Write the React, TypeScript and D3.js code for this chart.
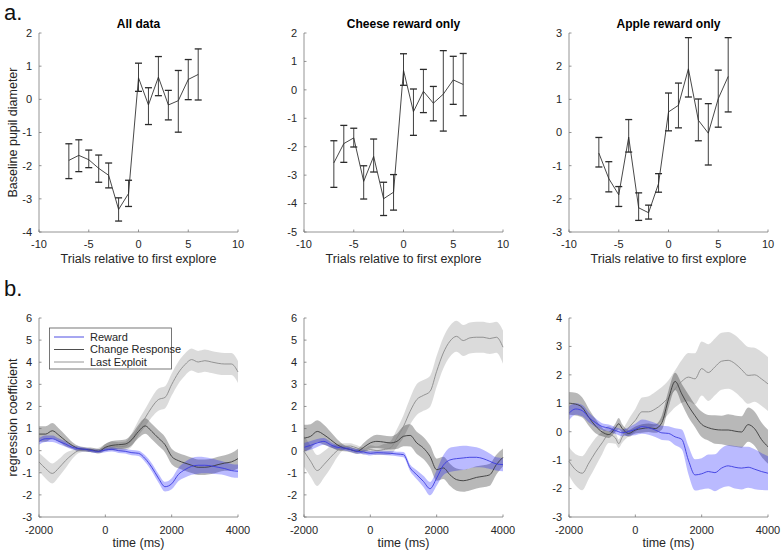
import React from "react";
import * as d3 from "d3";

// ---------- Panel a data ----------
const trials = [-7, -6, -5, -4, -3, -2, -1, 0, 1, 2, 3, 4, 5, 6];

const allMean = [-1.84, -1.69, -1.82, -2.08, -2.29, -3.32, -2.84, 0.65, -0.17, 0.67, -0.17, -0.04, 0.6, 0.75];
const allHi = [-1.34, -1.22, -1.53, -1.68, -1.92, -2.97, -2.44, 1.09, 0.35, 1.29, 0.27, 0.87, 1.2, 1.52];
const allLo = [-2.39, -2.18, -2.06, -2.5, -2.67, -3.67, -3.23, 0.24, -0.76, 0.11, -0.62, -0.99, -0.01, -0.02];

const cheeseMean = [-2.57, -1.89, -1.69, -3.22, -2.34, -3.83, -3.6, 0.69, -0.77, -0.05, -0.47, -0.15, 0.35, 0.19];
const cheeseHi = [-1.79, -1.25, -1.35, -2.67, -1.73, -3.25, -2.98, 1.27, 0.03, 0.72, 0.12, 1.38, 1.18, 1.28];
const cheeseLo = [-3.43, -2.55, -2.01, -3.84, -2.89, -4.42, -4.23, 0.16, -1.6, -0.8, -1.09, -1.45, -0.51, -0.91];

const appleMean = [-0.62, -1.39, -1.88, -0.14, -2.27, -2.42, -1.54, 0.62, 0.82, 1.92, 0.37, -0.02, 1.02, 1.69];
const appleHi = [-0.15, -0.88, -1.63, 0.39, -1.82, -2.19, -1.24, 1.19, 1.49, 2.86, 1.01, 0.87, 1.88, 2.86];
const appleLo = [-1.04, -1.79, -2.23, -0.59, -2.65, -2.61, -1.8, 0.05, 0.14, 1.07, -0.25, -0.98, 0.16, 0.62];

const topTitles = ["All data", "Cheese reward only", "Apple reward only"];
const topYDomains: [number, number][] = [[-4, 2], [-5, 2], [-3, 3]];
const trialTicks = [-10, -5, 0, 5, 10];

// ---------- Panel b data ----------
const times = [-2000, -1800, -1600, -1400, -1200, -1000, -800, -600, -500, -400, -200, 0, 200, 400, 600, 800, 1000, 1200, 1400, 1600, 1800, 2000, 2200, 2400, 2600, 2800, 3000, 3200, 3400, 3600, 3800, 4000];

const reward1 = [0.42, 0.54, 0.54, 0.42, 0.3, 0.15, 0.09, 0.05, 0.03, 0.0, -0.03, 0.03, 0.06, 0.0, -0.03, -0.09, -0.12, -0.36, -0.75, -1.24, -1.63, -1.5, -1.08, -0.86, -0.71, -0.66, -0.66, -0.69, -0.75, -0.81, -0.9, -0.93];
const reward1Ci = [0.15, 0.15, 0.15, 0.13, 0.12, 0.1, 0.1, 0.08, 0.08, 0.08, 0.08, 0.1, 0.1, 0.1, 0.1, 0.12, 0.12, 0.15, 0.18, 0.2, 0.22, 0.25, 0.3, 0.35, 0.38, 0.38, 0.36, 0.34, 0.32, 0.3, 0.3, 0.3];
const change1 = [0.75, 0.75, 0.9, 0.7, 0.45, 0.24, 0.09, 0.06, 0.04, 0.03, -0.03, 0.15, 0.24, 0.27, 0.3, 0.5, 0.87, 1.12, 0.87, 0.57, 0.27, -0.26, -0.45, -0.56, -0.66, -0.75, -0.75, -0.71, -0.63, -0.56, -0.51, -0.36];
const change1Ci = [0.35, 0.35, 0.35, 0.3, 0.25, 0.15, 0.12, 0.1, 0.1, 0.1, 0.1, 0.15, 0.2, 0.2, 0.2, 0.25, 0.3, 0.35, 0.35, 0.35, 0.35, 0.35, 0.35, 0.35, 0.35, 0.35, 0.35, 0.35, 0.35, 0.35, 0.4, 0.45];
const last1 = [-0.51, -0.81, -1.03, -0.78, -0.45, -0.18, 0.0, 0.03, 0.02, 0.0, 0.03, 0.15, 0.21, 0.18, 0.21, 0.5, 1.03, 1.48, 1.96, 2.31, 2.41, 2.99, 3.52, 3.89, 4.12, 4.01, 4.07, 4.01, 3.95, 3.92, 3.92, 3.56];
const last1Ci = [0.4, 0.45, 0.45, 0.4, 0.35, 0.2, 0.1, 0.08, 0.08, 0.08, 0.1, 0.15, 0.2, 0.2, 0.2, 0.3, 0.35, 0.4, 0.45, 0.5, 0.5, 0.5, 0.5, 0.5, 0.5, 0.5, 0.5, 0.5, 0.5, 0.5, 0.5, 0.5];

const reward2 = [0.15, 0.24, 0.35, 0.42, 0.27, 0.15, 0.12, 0.05, 0.01, -0.03, -0.06, -0.12, -0.09, -0.1, -0.12, -0.15, -0.18, -0.78, -1.09, -1.39, -1.72, -1.24, -0.66, -0.42, -0.36, -0.33, -0.3, -0.3, -0.36, -0.48, -0.6, -0.63];
const reward2Ci = [0.2, 0.2, 0.18, 0.15, 0.12, 0.1, 0.1, 0.1, 0.1, 0.1, 0.1, 0.1, 0.1, 0.1, 0.1, 0.1, 0.12, 0.15, 0.2, 0.25, 0.3, 0.35, 0.45, 0.55, 0.55, 0.55, 0.5, 0.45, 0.4, 0.35, 0.3, 0.3];
const change2 = [0.57, 0.65, 0.87, 0.72, 0.5, 0.27, 0.12, 0.05, 0.0, -0.03, 0.15, 0.35, 0.42, 0.39, 0.35, 0.42, 0.65, 0.69, 0.35, 0.12, -0.26, -0.86, -0.78, -1.09, -1.31, -1.36, -1.3, -1.21, -1.16, -1.09, -0.63, -0.3];
const change2Ci = [0.6, 0.55, 0.5, 0.45, 0.35, 0.25, 0.15, 0.12, 0.12, 0.12, 0.2, 0.25, 0.3, 0.3, 0.3, 0.35, 0.45, 0.5, 0.5, 0.5, 0.5, 0.5, 0.5, 0.5, 0.5, 0.5, 0.5, 0.5, 0.5, 0.5, 0.45, 0.4];
const last2 = [-0.03, -0.48, -0.9, -0.63, -0.3, 0.0, 0.18, 0.21, 0.17, 0.12, -0.03, 0.05, 0.0, 0.05, 0.12, 0.57, 1.1, 1.78, 2.31, 2.5, 2.68, 3.59, 4.42, 4.95, 5.17, 4.98, 5.1, 5.13, 5.13, 5.07, 5.13, 4.68];
const last2Ci = [0.7, 0.7, 0.7, 0.6, 0.5, 0.3, 0.15, 0.12, 0.12, 0.12, 0.15, 0.2, 0.2, 0.25, 0.3, 0.4, 0.5, 0.6, 0.7, 0.7, 0.7, 0.7, 0.7, 0.7, 0.7, 0.7, 0.7, 0.7, 0.7, 0.7, 0.7, 0.75];

const reward3 = [0.65, 0.8, 0.74, 0.5, 0.32, 0.18, 0.13, 0.04, 0.0, -0.04, 0.01, 0.08, 0.18, 0.14, 0.06, -0.04, -0.06, -0.18, -0.27, -1.0, -1.52, -1.48, -1.4, -1.44, -1.28, -1.2, -1.25, -1.28, -1.25, -1.32, -1.4, -1.46];
const reward3Ci = [0.25, 0.2, 0.2, 0.18, 0.15, 0.12, 0.12, 0.12, 0.12, 0.12, 0.15, 0.2, 0.25, 0.25, 0.25, 0.25, 0.25, 0.3, 0.35, 0.5, 0.55, 0.55, 0.6, 0.65, 0.7, 0.72, 0.75, 0.75, 0.72, 0.7, 0.65, 0.6];
const change3 = [1.0, 0.97, 0.85, 0.5, 0.2, -0.01, -0.1, 0.14, 0.28, 0.12, -0.06, 0.06, 0.11, 0.14, 0.11, 0.32, 1.15, 1.77, 1.33, 0.91, 0.56, 0.26, 0.14, 0.08, 0.06, 0.06, 0.02, -0.01, 0.25, 0.1, -0.27, -0.53];
const change3Ci = [0.4, 0.4, 0.35, 0.3, 0.25, 0.15, 0.12, 0.15, 0.2, 0.15, 0.12, 0.12, 0.15, 0.15, 0.15, 0.25, 0.3, 0.3, 0.35, 0.4, 0.4, 0.45, 0.45, 0.5, 0.5, 0.55, 0.55, 0.55, 0.6, 0.6, 0.6, 0.6];
const last3 = [-1.04, -1.34, -1.46, -1.1, -0.72, -0.39, -0.1, -0.22, -0.42, -0.2, 0.14, 0.4, 0.7, 0.7, 0.8, 0.97, 1.21, 1.51, 1.77, 1.92, 1.86, 2.22, 2.08, 2.28, 2.48, 2.51, 2.4, 2.19, 1.98, 2.0, 1.86, 1.68];
const last3Ci = [0.5, 0.55, 0.6, 0.55, 0.5, 0.4, 0.3, 0.2, 0.15, 0.2, 0.3, 0.4, 0.5, 0.55, 0.6, 0.6, 0.6, 0.65, 0.75, 0.85, 0.9, 0.95, 1.0, 1.0, 1.0, 1.0, 1.0, 1.0, 1.0, 0.95, 0.95, 0.95];

const bottomYDomains: [number, number][] = [[-3, 6], [-3, 6], [-3, 4]];
const timeTicks = [-2000, 0, 2000, 4000];
const seriesNames = ["Reward", "Change Response", "Last Exploit"];

// ---------- styling ----------
const FONT = "'Liberation Sans', Arial, Helvetica, sans-serif";
const AXIS = "#7a7a7a";
const TXT = "#262626";
const panelLefts = [39, 304, 569];
const panelW = 199;
const topY: [number, number] = [232, 33];
const botY: [number, number] = [517, 318];

const lineColors = ["#3b3be0", "#3a3a3a", "#8a8a8a"];
const bandColors = ["#0000ff", "#000000", "#000000"];
const bandOpac = [0.27, 0.28, 0.14];

function Axes({ x, y, xTicks, yTicks, xLabelY }: any) {
  const [x0, x1] = x.range();
  const [y0] = y.range();
  return (
    <g>
      <line x1={x0} x2={x1} y1={y0} y2={y0} stroke={AXIS} strokeWidth={0.8} />
      <line x1={x0} x2={x0} y1={y.range()[0]} y2={y.range()[1]} stroke={AXIS} strokeWidth={0.8} />
      {xTicks.map((t: number) => (
        <g key={"x" + t}>
          <line x1={x(t)} x2={x(t)} y1={y0} y2={y0 - 2.5} stroke={AXIS} strokeWidth={0.8} />
          <text x={x(t)} y={xLabelY} textAnchor="middle" fontSize={11} fill={TXT} fontFamily={FONT}>
            {t}
          </text>
        </g>
      ))}
      {yTicks.map((t: number) => (
        <g key={"y" + t}>
          <line x1={x0} x2={x0 + 2.5} y1={y(t)} y2={y(t)} stroke={AXIS} strokeWidth={0.8} />
          <text x={x0 - 7} y={y(t)} dy="0.35em" textAnchor="end" fontSize={11} fill={TXT} fontFamily={FONT}>
            {t}
          </text>
        </g>
      ))}
    </g>
  );
}

function TopPanel({ idx, mean, hi, lo }: any) {
  const left = panelLefts[idx];
  const x = d3.scaleLinear().domain([-10, 10]).range([left, left + panelW]);
  const y = d3.scaleLinear().domain(topYDomains[idx]).range(topY);
  const yTicks = d3.range(topYDomains[idx][0], topYDomains[idx][1] + 1);
  const line = d3
    .line<number>()
    .x((_, i) => x(trials[i]))
    .y((d) => y(d));
  const cap = 3.5;
  return (
    <g>
      <Axes x={x} y={y} xTicks={trialTicks} yTicks={yTicks} xLabelY={248} />
      <text x={left + panelW / 2} y={28} textAnchor="middle" fontSize={12} fontWeight="bold" fill="#000" fontFamily={FONT}>
        {topTitles[idx]}
      </text>
      <text x={left + panelW / 2} y={263} textAnchor="middle" fontSize={12.5} fill={TXT} fontFamily={FONT}>
        Trials relative to first explore
      </text>
      <path d={line(mean) || ""} fill="none" stroke="#333" strokeWidth={0.9} />
      {trials.map((t, i) => (
        <g key={t} stroke="#2a2a2a">
          <line x1={x(t)} x2={x(t)} y1={y(hi[i])} y2={y(lo[i])} strokeWidth={0.9} />
          <line x1={x(t) - cap} x2={x(t) + cap} y1={y(hi[i])} y2={y(hi[i])} strokeWidth={1.3} />
          <line x1={x(t) - cap} x2={x(t) + cap} y1={y(lo[i])} y2={y(lo[i])} strokeWidth={1.3} />
        </g>
      ))}
    </g>
  );
}

function BottomPanel({ idx, series }: any) {
  const left = panelLefts[idx];
  const x = d3.scaleLinear().domain([-2000, 4000]).range([left, left + panelW]);
  const y = d3.scaleLinear().domain(bottomYDomains[idx]).range(botY);
  const yTicks = d3.range(bottomYDomains[idx][0], bottomYDomains[idx][1] + 1);
  const area = d3
    .area<any>()
    .x((d) => x(d.t))
    .y0((d) => y(d.m - d.c))
    .y1((d) => y(d.m + d.c))
    .curve(d3.curveMonotoneX);
  const line = d3
    .line<any>()
    .x((d) => x(d.t))
    .y((d) => y(d.m))
    .curve(d3.curveMonotoneX);
  const data = series.map((s: any) => times.map((t, i) => ({ t, m: s[0][i], c: s[1][i] })));
  const order = [2, 1, 0];
  return (
    <g>
      {order.map((k) => (
        <path key={"b" + k} d={area(data[k]) || ""} fill={bandColors[k]} fillOpacity={bandOpac[k]} stroke="none" />
      ))}
      {order.map((k) => (
        <path key={"l" + k} d={line(data[k]) || ""} fill="none" stroke={lineColors[k]} strokeWidth={0.9} />
      ))}
      <Axes x={x} y={y} xTicks={timeTicks} yTicks={yTicks} xLabelY={534} />
      <text x={left + panelW / 2} y={547} textAnchor="middle" fontSize={12.5} fill={TXT} fontFamily={FONT}>
        time (ms)
      </text>
    </g>
  );
}

export default function App() {
  const bottomSeries = [
    [[reward1, reward1Ci], [change1, change1Ci], [last1, last1Ci]],
    [[reward2, reward2Ci], [change2, change2Ci], [last2, last2Ci]],
    [[reward3, reward3Ci], [change3, change3Ci], [last3, last3Ci]],
  ];
  const legendYs = [337, 349.5, 362];
  return (
    <svg width={783} height={555} style={{ position: "absolute", left: 0, top: 0, background: "#fff" }}>
      <rect width={783} height={555} fill="#fff" />
      <text x={4} y={20} fontSize={22} fill="#111" fontFamily={FONT}>a.</text>
      <text x={4} y={296} fontSize={22} fill="#111" fontFamily={FONT}>b.</text>

      <TopPanel idx={0} mean={allMean} hi={allHi} lo={allLo} />
      <TopPanel idx={1} mean={cheeseMean} hi={cheeseHi} lo={cheeseLo} />
      <TopPanel idx={2} mean={appleMean} hi={appleHi} lo={appleLo} />

      <text transform="translate(17,132.5) rotate(-90)" textAnchor="middle" fontSize={12.5} fill={TXT} fontFamily={FONT}>
        Baseline pupil diameter
      </text>
      <text transform="translate(17,417.5) rotate(-90)" textAnchor="middle" fontSize={12.5} fill={TXT} fontFamily={FONT}>
        regression coefficient
      </text>

      {bottomSeries.map((s, i) => (
        <BottomPanel key={i} idx={i} series={s} />
      ))}

      <g>
        <rect x={49.5} y={328} width={122} height={41} fill="#fff" stroke="#555" strokeWidth={0.8} />
        {seriesNames.map((n, i) => (
          <g key={n}>
            <line x1={54} x2={84} y1={legendYs[i]} y2={legendYs[i]} stroke={lineColors[i]} strokeWidth={0.9} />
            <text x={90} y={legendYs[i]} dy="0.35em" fontSize={11} fill={TXT} fontFamily={FONT}>
              {n}
            </text>
          </g>
        ))}
      </g>
    </svg>
  );
}
